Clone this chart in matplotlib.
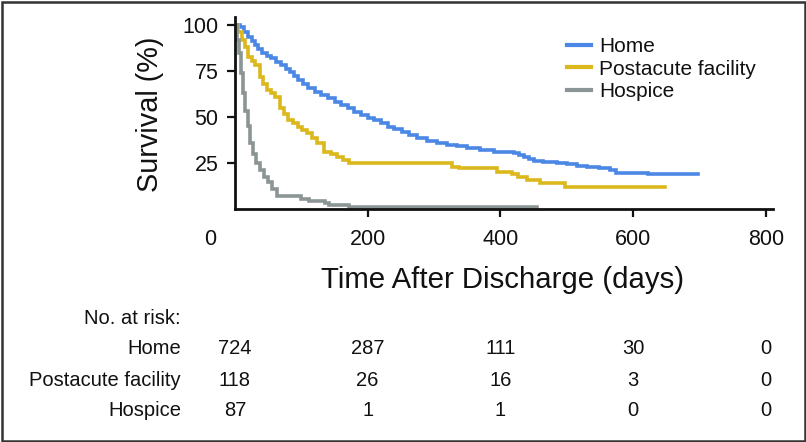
import matplotlib
matplotlib.use("Agg")
import matplotlib.pyplot as plt
from matplotlib.patches import Rectangle
from matplotlib.transforms import ScaledTranslation, blended_transform_factory

plt.rcParams['font.family'] = ['Liberation Sans', 'DejaVu Sans']

# ---- data ----
groups = ["Home", "Postacute facility", "Hospice"]
colors = ["#4b87e4", "#dbb81c", "#8c9595"]

home_t = [0, 7.5, 14, 20, 25, 30, 35, 40, 48, 55, 62, 70, 77, 83, 89, 95, 102, 110, 120, 130,
          140, 150, 160, 170, 180, 190, 200, 210, 220, 230, 240, 251, 263, 275, 290, 305, 320,
          335, 350, 370, 390, 405, 420, 428, 435, 443, 450, 465, 485, 500, 515, 530, 548, 565,
          575, 618, 622, 698]
home_s = [100, 99, 96, 93.6, 91.3, 89.1, 86.8, 84.6, 83.2, 81.9, 80, 78.3, 76.3, 74.6, 72.3,
          70.1, 67.8, 65.6, 63.8, 62, 60.1, 58.3, 56.5, 54.7, 52.9, 51.1, 49.7, 48.4, 46.5, 44.7,
          43.3, 42, 40.2, 38.4, 37.2, 36, 35, 34, 33, 32, 31.1, 30.7, 30.2, 29.3, 28.4, 27.3, 26.2,
          25.5, 24.8, 24.2, 23.6, 23, 22.1, 21.2, 19.7, 19.4, 19, 19]

post_t = [0, 5, 10, 15, 20, 25, 30, 37.6, 42, 47.6, 54, 60, 67.7, 74, 80, 88, 95, 101, 108, 116,
          124, 134, 145, 154, 163, 172, 327, 337, 395, 418, 427, 440, 460, 498, 648]
post_s = [100, 96, 92, 88.2, 82.8, 80.5, 78.3, 71.9, 68, 64.7, 63, 61, 54.7, 51.5, 48.4, 46.5,
          44.7, 43, 41.1, 38.5, 35.7, 31.1, 29.7, 28.4, 26.8, 24.8, 23, 22.1, 20.3, 18.8, 17.6,
          15.8, 14.3, 12.1, 12.1]

hosp_t = [0, 3, 6.5, 9, 11.5, 15, 19, 23, 27, 32, 37, 43, 49, 56, 64, 100, 112, 135, 142, 172, 455]
hosp_s = [100, 92, 85, 74, 63, 53, 45, 36, 30, 25, 21, 17.5, 14.8, 11, 6.9, 5.7, 4.6, 3.4, 2.3,
          1.1, 1.1]

x_ticks = [0, 200, 400, 600, 800]
y_ticks = [25, 50, 75, 100]

risk_times = [0, 200, 400, 600, 800]
risk_home = [724, 287, 111, 30, 0]
risk_post = [118, 26, 16, 3, 0]
risk_hosp = [87, 1, 1, 0, 0]

# ---- figure ----
W, H = 806, 442
fig = plt.figure(figsize=(W / 100, H / 100), dpi=100)
ax = fig.add_axes([235 / W, 1 - 209 / H, 538 / W, 192 / H])

series = [(home_t, home_s), (post_t, post_s), (hosp_t, hosp_s)]
for (t, s), c, lab in zip(series, colors, groups):
    ax.plot(t, s, drawstyle="steps-post", color=c, lw=2.6, label=lab, solid_joinstyle="miter")

ax.set_xlim(0, 811)
ax.set_ylim(0, 104.3)
for sp in ["top", "right"]:
    ax.spines[sp].set_visible(False)
for sp in ["left", "bottom"]:
    ax.spines[sp].set_linewidth(2.0)
    ax.spines[sp].set_color("#111111")

ax.set_xticks(x_ticks)
ax.set_xticklabels([str(v) for v in x_ticks])
ax.set_yticks(y_ticks)
ax.set_yticklabels([str(v) for v in y_ticks])
ax.tick_params(axis="both", labelsize=15.5, width=1.6, length=6, color="#111111", labelcolor="#111111")
ax.tick_params(axis="x", pad=8.5)
ax.tick_params(axis="y", pad=6)
# first x tick: no mark, label shifted left
ax.xaxis.get_major_ticks()[0].tick1line.set_visible(False)
lbl0 = ax.get_xticklabels()[0]
lbl0.set_transform(lbl0.get_transform() + ScaledTranslation(-25 / 100, 0, fig.dpi_scale_trans))

fig.text(150 / W, 1 - 114 / H, "Survival (%)", rotation=90, ha="center", va="center",
         fontsize=20.8, color="#111111")
fig.text(503 / W, 1 - 280 / H, "Time After Discharge (days)", ha="center", va="center",
         fontsize=21.2, color="#111111")

leg = ax.legend(loc="upper left", bbox_to_anchor=(567 / W, 1 - 37 / H),
                bbox_transform=fig.transFigure, frameon=False, fontsize=15,
                handlelength=1.15, handletextpad=0.4, labelspacing=0.17,
                borderpad=0, borderaxespad=0)
for line in leg.get_lines():
    line.set_linewidth(3)
for txt in leg.get_texts():
    txt.set_color("#111111")

# ---- number at risk table ----
tr = blended_transform_factory(ax.transData, fig.transFigure)
fs_tab = 14.5
fig.text(181 / W, 1 - 318 / H, "No. at risk:", ha="right", va="center", fontsize=fs_tab, color="#111111")
row_y = [349, 380, 410]
for lab, vals, yy in zip(groups, [risk_home, risk_post, risk_hosp], row_y):
    fig.text(181 / W, 1 - yy / H, lab, ha="right", va="center", fontsize=fs_tab, color="#111111")
    for tt, v in zip(risk_times, vals):
        ax.text(tt, 1 - yy / H, str(v), transform=tr, ha="center", va="center",
                fontsize=fs_tab, color="#111111", clip_on=False)

# frame around the figure
fig.patches.append(Rectangle((1.5 / W, 1.5 / H), 1 - 3 / W, 1 - 3 / H, transform=fig.transFigure,
                             fill=False, lw=1.8, ec="#333333"))

fig.savefig("out.png", dpi=100)
